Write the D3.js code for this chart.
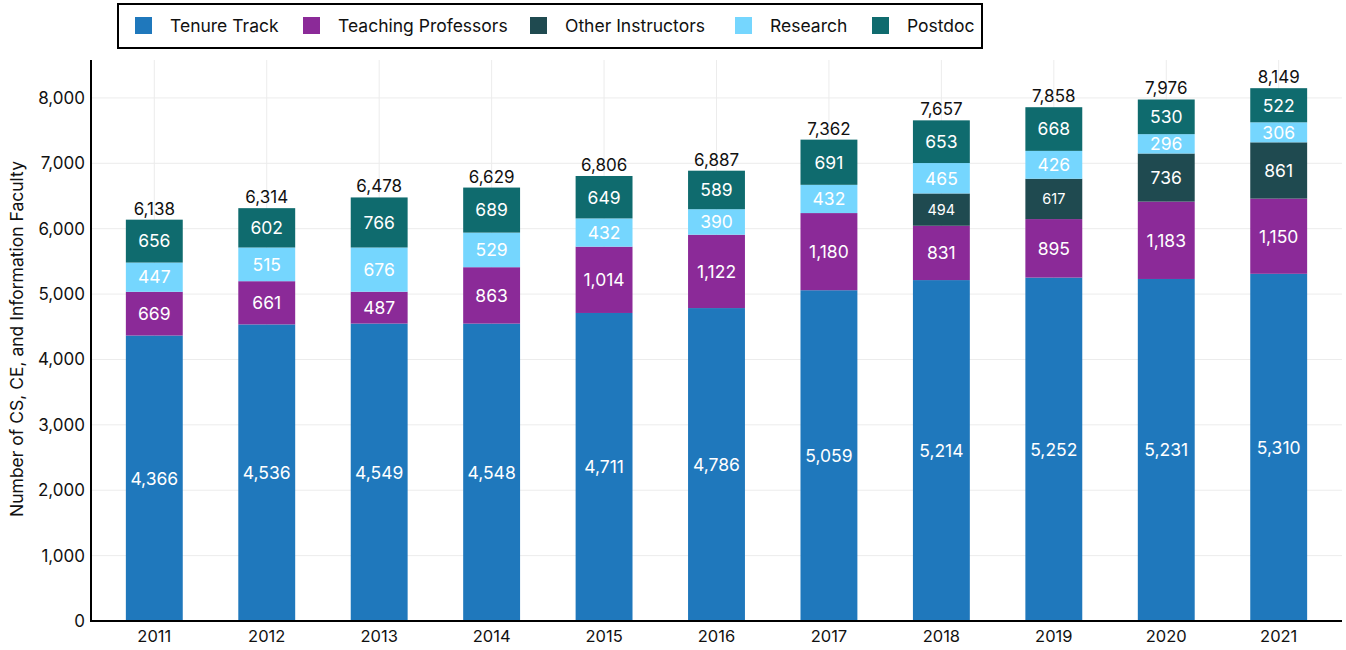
<!DOCTYPE html>
<html><head><meta charset="utf-8">
<script src="https://cdn.jsdelivr.net/npm/d3@7"></script>
<style>body{margin:0;background:#fff}svg{display:block}text{font-family:Inter,"Open Sans",sans-serif}</style>
</head><body><svg id="c" width="1346" height="650"></svg>
<script>
const years = ["2011","2012","2013","2014","2015","2016","2017","2018","2019","2020","2021"];
const seriesNames = ["Tenure Track","Teaching Professors","Other Instructors","Research","Postdoc"];
const seriesColors = ["#1f78bc","#8b2a98","#1f4a50","#75d6fe","#0f6b6e"];
const tenureTrack = [4366,4536,4549,4548,4711,4786,5059,5214,5252,5231,5310];
const teachingProfessors = [669,661,487,863,1014,1122,1180,831,895,1183,1150];
const otherInstructors = [0,0,0,0,0,0,0,494,617,736,861];
const research = [447,515,676,529,432,390,432,465,426,296,306];
const postdoc = [656,602,766,689,649,589,691,653,668,530,522];
const yTicks = [0,1000,2000,3000,4000,5000,6000,7000,8000];

const seriesValues = [tenureTrack,teachingProfessors,otherInstructors,research,postdoc];
const rows = years.map((y,i)=>{const r={year:y};seriesNames.forEach((s,k)=>r[s]=seriesValues[k][i]);return r;});
const stack = d3.stack().keys(seriesNames)(rows);

const svg = d3.select("#c");
const L=91,R=1342,T=60,B=621;
const x = d3.scaleBand().domain(years).range([L,R]).paddingInner(0.494).paddingOuter(0.31);
const y = d3.scaleLinear().domain([0,8580]).range([B,T]);
const fmt = d3.format(",");

// gridlines
svg.append("g").selectAll("line.h").data(yTicks.slice(1)).join("line")
  .attr("x1",L).attr("x2",R).attr("y1",d=>y(d)).attr("y2",d=>y(d))
  .attr("stroke","#ececec").attr("stroke-width",1);
svg.append("g").selectAll("line.v").data(years).join("line")
  .attr("x1",d=>x(d)+x.bandwidth()/2).attr("x2",d=>x(d)+x.bandwidth()/2).attr("y1",T).attr("y2",B)
  .attr("stroke","#ececec").attr("stroke-width",1);

// bars
const g = svg.append("g");
stack.forEach((layer,k)=>{
  g.append("g").attr("fill",seriesColors[k]).selectAll("rect").data(layer.filter(d=>d[1]-d[0]>0)).join("rect")
    .attr("x",d=>x(d.data.year)).attr("width",x.bandwidth())
    .attr("y",d=>y(d[1])).attr("height",d=>y(d[0])-y(d[1]));
});
// segment labels
stack.forEach((layer,k)=>{
  g.append("g").selectAll("text").data(layer.filter(d=>d[1]-d[0]>0)).join("text")
    .attr("x",d=>x(d.data.year)+x.bandwidth()/2).attr("y",d=>(y(d[0])+y(d[1]))/2)
    .attr("dy","0.36em").attr("text-anchor","middle").attr("fill","#fff")
    .attr("font-size",d=>(k===2 && d[1]-d[0]<700)?14.5:17.5)
    .text(d=>fmt(d[1]-d[0]));
});
// totals
svg.append("g").selectAll("text").data(rows).join("text")
  .attr("x",d=>x(d.year)+x.bandwidth()/2)
  .attr("y",d=>y(seriesNames.reduce((a,s)=>a+d[s],0))-5)
  .attr("text-anchor","middle").attr("font-size",17).attr("fill","#111")
  .text(d=>fmt(seriesNames.reduce((a,s)=>a+d[s],0)));

// axes
const ya = svg.append("g").attr("transform",`translate(${L},0)`)
  .call(d3.axisLeft(y).tickValues(yTicks).tickFormat(fmt).tickSize(0).tickPadding(6));
ya.select(".domain").remove();
ya.selectAll("text").attr("font-size",17).attr("fill","#111").style("font-family","Inter, sans-serif");
const xa = svg.append("g").attr("transform",`translate(0,${B})`)
  .call(d3.axisBottom(x).tickSize(0).tickPadding(9));
xa.select(".domain").remove();
xa.selectAll("text").attr("font-size",16.5).attr("fill","#111").style("font-family","Inter, sans-serif");
svg.append("line").attr("x1",L).attr("x2",L).attr("y1",T).attr("y2",B+1).attr("stroke","#000").attr("stroke-width",2);
svg.append("line").attr("x1",L-1).attr("x2",R).attr("y1",B).attr("y2",B).attr("stroke","#000").attr("stroke-width",2);

svg.append("text").attr("transform",`translate(23,339) rotate(-90)`)
  .attr("text-anchor","middle").attr("font-size",17.5).attr("fill","#111")
  .text("Number of CS, CE, and Information Faculty");

// legend
const lg = svg.append("g");
lg.append("rect").attr("x",118).attr("y",4).attr("width",864).attr("height",44)
  .attr("fill","#fff").attr("stroke","#000").attr("stroke-width",2);
const legX = [135,303,530,735,872];
seriesNames.forEach((s,k)=>{
  lg.append("rect").attr("x",legX[k]).attr("y",17).attr("width",17).attr("height",17).attr("fill",seriesColors[k]);
  lg.append("text").attr("x",legX[k]+35).attr("y",26).attr("dy","0.36em").attr("font-size",17.5).attr("fill","#111").text(s);
});
</script></body></html>
